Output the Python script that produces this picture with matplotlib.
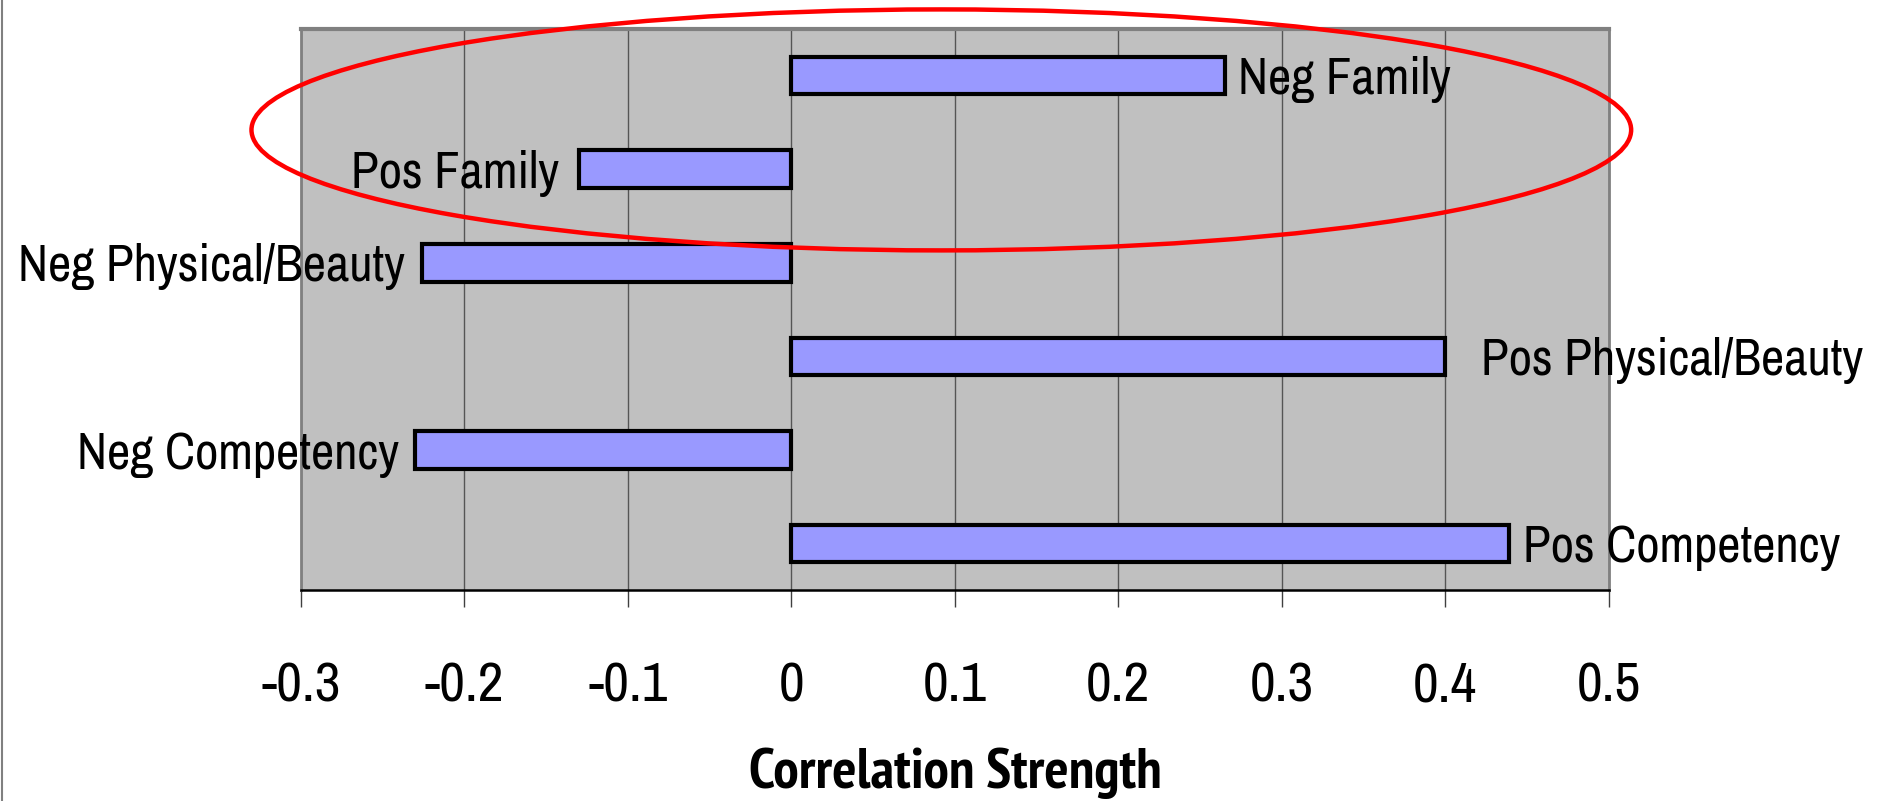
import matplotlib.pyplot as plt
import matplotlib.font_manager as fm
from matplotlib.patches import Ellipse
from matplotlib.lines import Line2D

# categories top to bottom
labels = ['Neg Family', 'Pos Family', 'Neg Physical/Beauty',
          'Pos Physical/Beauty', 'Neg Competency', 'Pos Competency']
values = [0.265, -0.13, -0.226, 0.40, -0.23, 0.439]
# label offset from bar end, in points
label_gap = [10, 14, 12, 26, 12, 10]

ticks = [-0.3, -0.2, -0.1, 0, 0.1, 0.2, 0.3, 0.4, 0.5]
tick_labels = ['-0.3', '-0.2', '-0.1', '0', '0.1', '0.2', '0.3', '0.4', '0.5']


# the original uses Arial Narrow; look for the closest narrow face installed
def find_narrow(bold):
    best, best_score = None, -1
    for f in fm.fontManager.ttflist:
        nm = f.name.lower()
        st = str(f.stretch).lower()
        narrow = ('narrow' in nm or 'condensed' in nm or
                  st in ('condensed', 'semi-condensed'))
        if not narrow or f.style != 'normal':
            continue
        if 'extra' in nm or 'ultra' in nm or 'mono' in nm or 'serif' in nm:
            continue
        w = f.weight if isinstance(f.weight, int) else 400
        if bold and w < 600:
            continue
        if not bold and w != 400:
            continue
        score = 0
        if 'narrow' in nm:
            score += 50
        if 'roboto' in nm:
            score += 30
        if 'liberation' in nm:
            score += 40
        if 'noto' in nm:
            score += 20
        if st == 'condensed' or ('condensed' in nm and 'semi' not in nm):
            score += 10
        if bold and w == 700:
            score += 5
        if score > best_score:
            best, best_score = f, score
    return best


reg = find_narrow(False)
bld = find_narrow(True)
fp_reg = fm.FontProperties(fname=reg.fname) if reg else fm.FontProperties(family='Liberation Sans')
fp_bld = fm.FontProperties(fname=bld.fname) if bld else fm.FontProperties(family='Liberation Sans', weight='bold')

fig = plt.figure(figsize=(18.86, 8.01), dpi=100)
ax = fig.add_axes([0.1596, 0.263, 0.6934, 0.701])
ax.set_facecolor('#C0C0C0')
renderer = fig.canvas.get_renderer()


def fit_size(s, fp, target_px, cap):
    t = fig.text(0, 0, s, fontproperties=fp, fontsize=40)
    w = t.get_window_extent(renderer).width
    t.remove()
    return min(cap, 40 * target_px / w)


lab_size = fit_size('Pos Competency', fp_reg, 318, 40)
tick_size = fit_size('0.5', fp_reg, 64, 42)
xl_size = fit_size('Correlation Strength', fp_bld, 412, 41)

ypos = list(range(len(labels)))
ax.barh(ypos, values, height=0.4, color='#9999FF', edgecolor='black',
        linewidth=3, zorder=3)

for y, v, name, gap in zip(ypos, values, labels, label_gap):
    if v >= 0:
        xt, ha = gap, 'left'
    else:
        xt, ha = -gap, 'right'
    ax.annotate(name, (v, y), xytext=(xt, -3), textcoords='offset points',
                ha=ha, va='center', fontproperties=fp_reg, fontsize=lab_size,
                zorder=5, annotation_clip=False)

ax.set_xlim(-0.3, 0.5)
ax.set_ylim(5.5, -0.5)
ax.set_xticks(ticks)
ax.set_xticklabels(tick_labels, fontproperties=fp_reg, fontsize=tick_size)
ax.set_yticks([])
ax.tick_params(axis='x', length=12, width=1, color='#404040', pad=39)
ax.grid(axis='x', color='#555555', linewidth=1, zorder=1)
ax.set_axisbelow(True)

ax.spines['top'].set_color('#808080')
ax.spines['top'].set_linewidth(3)
ax.spines['left'].set_color('#808080')
ax.spines['left'].set_linewidth(2)
ax.spines['right'].set_color('#808080')
ax.spines['right'].set_linewidth(2)
ax.spines['bottom'].set_color('black')
ax.spines['bottom'].set_linewidth(1.8)

ax.set_xlabel('Correlation Strength', fontproperties=fp_bld, fontsize=xl_size)
ax.xaxis.set_label_coords(0.5, -0.28)
ax.xaxis.label.set_va('top')

# red ellipse highlighting the family bars
ax.add_patch(Ellipse((0.0917, 0.58), 0.844, 2.575, fill=False,
                     edgecolor='red', linewidth=3.2, clip_on=False, zorder=6))

# thin frame line on the left edge of the picture
fig.add_artist(Line2D([0.001, 0.001], [0, 1], color='#808080', linewidth=1.5))

fig.savefig('out.png', dpi=100)
